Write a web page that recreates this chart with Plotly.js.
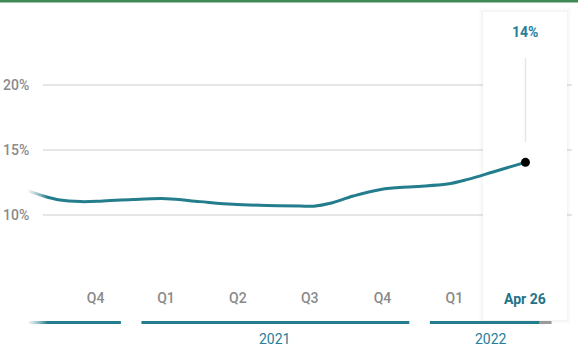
<!DOCTYPE html>
<html>
<head>
<meta charset="utf-8">
<script src="https://cdn.plot.ly/plotly-3.0.1.min.js"></script>
<style>
html,body{margin:0;padding:0;background:#fff;}
#chart{width:578px;height:359px;}
</style>
</head>
<body>
<div id="chart"></div>
<script>
// ---- data ----
const dates = ['2020-08-24','2020-09-12','2020-10-03','2020-10-29','2020-11-23','2021-01-03','2021-02-15','2021-03-29','2021-05-10','2021-06-22','2021-08-03','2021-08-20','2021-09-10','2021-10-09','2021-11-13','2021-12-24','2022-02-05','2022-03-03','2022-04-05','2022-05-15'];
const values = [11.85,11.46,11.15,11.03,11.06,11.2,11.26,11.03,10.82,10.74,10.69,10.68,10.9,11.46,11.97,12.18,12.38,12.74,13.33,14.05];
const lastLabel = 'Apr 26';
const lastValueText = '14%';

const quarterMids = ['2020-11-17','2021-02-14','2021-05-16','2021-08-15','2021-11-15','2022-02-14'];
const quarterLabels = ['Q4','Q1','Q2','Q3','Q4','Q1'];

const yTicks = [10,15,20];

const years = ['2020','2021','2022'];
const yearBarStart = ['2020-08-24','2021-01-14','2022-01-14'];
const yearBarEnd = ['2020-12-19','2021-12-19','2022-06-02'];
const yearShowLabel = [false,true,true];
const futureEnd = '2022-06-17';

const xRange = ['2020-07-19','2022-07-20 12:00'];
const yRange = [4.385, 26.54];

// ---- styles ----
const TEAL = '#237d8c';
const TEXT_TEAL = '#26809a';
const GRAY = '#8a8a8a';
const PLOT_H = 288;
const W = 578;
const py = px => 1 - px / PLOT_H;
const pxX = px => px / W;

const lastDate = dates[dates.length-1];
const lastVal = values[values.length-1];

const shapes = [];
// gridlines
yTicks.forEach(v => shapes.push({type:'line', xref:'paper', yref:'y', x0:pxX(43), x1:0.99, y0:v, y1:v, line:{color:'#e6e6e6', width:2}, layer:'below'}));
// card shadow
[[4,0.006],[3,0.008],[2,0.010],[1,0.014]].forEach(([d,a]) => shapes.push({type:'rect', xref:'paper', yref:'paper', x0:pxX(483-d), x1:pxX(567+d), y0:py(320+d), y1:py(12-d), fillcolor:'#000000', opacity:a, line:{width:0}, layer:'below'}));
// card
shapes.push({type:'rect', xref:'paper', yref:'paper', x0:pxX(483), x1:pxX(567), y0:py(320), y1:py(12), fillcolor:'#ffffff', line:{width:0}, layer:'below'});
// vertical line in card
shapes.push({type:'line', xref:'x', yref:'paper', x0:lastDate, x1:lastDate, y0:py(58), y1:py(142), line:{color:'#e6e6e6', width:1.5}, layer:'below'});
// year bars
years.forEach((y,i) => shapes.push({type:'rect', xref:'x', yref:'paper', x0:yearBarStart[i], x1:yearBarEnd[i], y0:py(324), y1:py(321), fillcolor:TEAL, line:{width:0}, layer:'above'}));
shapes.push({type:'rect', xref:'x', yref:'paper', x0:yearBarEnd[2], x1:futureEnd, y0:py(324), y1:py(321), fillcolor:'#9a9a9a', line:{width:0}, layer:'above'});
// left fade (white strips)
const fadeSteps = 10;
for (let i=0;i<fadeSteps;i++){
  const t = (i+0.5)/fadeSteps;
  const a = Math.pow(1 - t, 0.8);
  [[176,208],[314,330]].forEach(([tp,b]) => shapes.push({type:'rect', xref:'paper', yref:'paper', x0:pxX(27+i*2), x1:pxX(29+i*2), y0:py(b), y1:py(tp), fillcolor:'#ffffff', opacity:a, line:{width:0}, layer:'above'}));
}
// green top border
shapes.push({type:'rect', xref:'paper', yref:'paper', x0:0, x1:1, y0:py(2.5), y1:py(0), fillcolor:'#3f8a55', line:{width:0}, layer:'above'});

const annotations = [];
years.forEach((y,i) => {
  if (!yearShowLabel[i]) return;
  const s = new Date(yearBarStart[i]).getTime();
  const e = new Date(i===2 ? futureEnd : yearBarEnd[i]).getTime();
  annotations.push({xref:'x', yref:'paper', x:new Date((s+e)/2).toISOString().slice(0,10), y:py(339), text:y, showarrow:false, font:{family:'Roboto', size:14, color:TEXT_TEAL}, xanchor:'center', yanchor:'middle'});
});
annotations.push({xref:'x', yref:'paper', x:lastDate, y:py(298.5), text:'<b>'+lastLabel+'</b>', showarrow:false, font:{family:'Roboto', size:14, color:'#1f7389'}, xanchor:'center', yanchor:'middle'});
annotations.push({xref:'x', yref:'paper', x:lastDate, y:py(31.5), text:'<b>'+lastValueText+'</b>', showarrow:false, font:{family:'Roboto', size:14, color:TEXT_TEAL}, xanchor:'center', yanchor:'middle'});

const traces = [
  {x:dates, y:values, type:'scatter', mode:'lines', line:{color:TEAL, width:3, shape:'spline', smoothing:1}, hoverinfo:'skip'},
  {x:[lastDate], y:[lastVal], type:'scatter', mode:'markers', marker:{color:'#000', size:9}, hoverinfo:'skip'}
];

const layout = {
  width:578, height:359,
  margin:{l:0, r:0, t:0, b:359-PLOT_H},
  paper_bgcolor:'#fff', plot_bgcolor:'rgba(0,0,0,0)',
  showlegend:false,
  xaxis:{type:'date', range:xRange, tickvals:quarterMids, ticktext:quarterLabels, showgrid:false, zeroline:false, showline:false, ticks:'', tickfont:{family:'Roboto', size:14, color:GRAY, weight:500}, fixedrange:true},
  yaxis:{range:yRange, tickvals:yTicks, ticktext:yTicks.map(v=>v+'%'), ticklabelposition:'inside', showgrid:false, zeroline:false, showline:false, ticks:'', tickfont:{family:'Roboto', size:14, color:GRAY, weight:500}, fixedrange:true},
  shapes, annotations
};
Plotly.newPlot('chart', traces, layout, {displayModeBar:false, staticPlot:true});
</script>
</body>
</html>
